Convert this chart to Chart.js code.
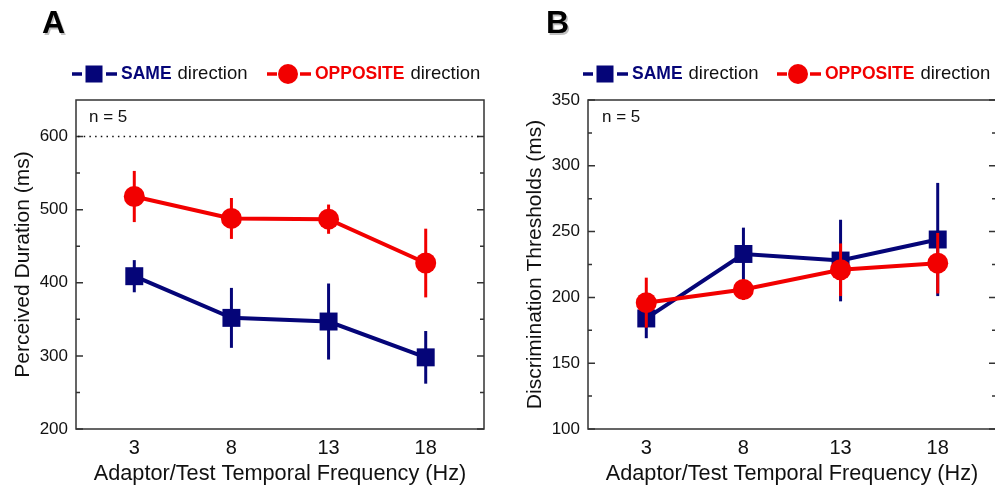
<!DOCTYPE html>
<html><head><meta charset="utf-8">
<script src="https://cdn.jsdelivr.net/npm/chart.js@4"></script>
<style>
html,body{margin:0;padding:0;overflow:hidden;background:#fff;width:995px;height:489px;}
#wa{position:absolute;left:0;top:0;width:500px;height:489px;}
#wb{position:absolute;left:500px;top:0;width:520px;height:489px;}
</style></head><body>
<div id="wa"><canvas id="ca" width="500" height="489"></canvas></div>
<div id="wb"><canvas id="cb" width="520" height="489"></canvas></div>
<script>
// ---- data ----
const frequencies = [3, 8, 13, 18];
const xTicks = [3, 8, 13, 18];
const durationSame = [409, 352, 347, 298];
const durationSameErr = [22, 41, 52, 36];
const durationOpposite = [518, 488, 487, 427];
const durationOppositeErr = [35, 28, 20, 47];
const thresholdSame = [184, 233, 228, 244];
const thresholdSameErr = [15, 20, 31, 43];
const thresholdOpposite = [196, 206, 221, 226];
const thresholdOppositeErr = [19, 8, 20, 23];
const durationTicks = [200, 300, 400, 500, 600];
const durationMinorTicks = [250, 350, 450, 550];
const thresholdTicks = [100, 150, 200, 250, 300, 350];
const thresholdMinorTicks = [125, 175, 225, 275, 325];
const referenceDuration = 600;
const sampleText = 'n = 5';

const NAVY = '#050578';
const RED = '#f20000';
const FONT = '"Liberation Sans", Arial, sans-serif';

function pts(arr) { return frequencies.map((f, i) => ({ x: f, y: arr[i] })); }

function drawSquare(ctx, cx, cy, s, c) { ctx.fillStyle = c; ctx.fillRect(cx - s / 2, cy - s / 2, s, s); }
function drawCircle(ctx, cx, cy, r, c) { ctx.fillStyle = c; ctx.beginPath(); ctx.arc(cx, cy, r, 0, Math.PI * 2); ctx.fill(); }
function dash(ctx, x1, x2, y, c) { ctx.strokeStyle = c; ctx.lineWidth = 3.5; ctx.beginPath(); ctx.moveTo(x1, y); ctx.lineTo(x2, y); ctx.stroke(); }

const panelPlugin = {
  id: 'panel',
  beforeDatasetsDraw(chart, args, o) {
    const { ctx, chartArea: a } = chart;
    const y = chart.scales.y;
    ctx.save();
    ctx.strokeStyle = '#333';
    ctx.lineWidth = 1.5;
    ctx.strokeRect(a.left, a.top, a.right - a.left, a.bottom - a.top);
    ctx.beginPath();
    o.major.forEach(v => {
      const p = y.getPixelForValue(v);
      ctx.moveTo(a.left, p); ctx.lineTo(a.left + 7, p);
      ctx.moveTo(a.right, p); ctx.lineTo(a.right - 7, p);
    });
    o.minor.forEach(v => {
      const p = y.getPixelForValue(v);
      ctx.moveTo(a.left, p); ctx.lineTo(a.left + 4, p);
      ctx.moveTo(a.right, p); ctx.lineTo(a.right - 4, p);
    });
    ctx.stroke();
    if (o.refLine != null) {
      const p = y.getPixelForValue(o.refLine);
      ctx.strokeStyle = '#111';
      ctx.lineWidth = 1.5;
      ctx.setLineDash([1.5, 4.2]);
      ctx.beginPath(); ctx.moveTo(a.left + 2, p); ctx.lineTo(a.right - 2, p); ctx.stroke();
      ctx.setLineDash([]);
    }
    ctx.fillStyle = '#111';
    ctx.font = '17px ' + FONT;
    ctx.textBaseline = 'middle';
    ctx.textAlign = 'left';
    ctx.fillText(sampleText, a.left + o.nOffset, 117);
    ctx.restore();
  },
  beforeDatasetDraw(chart, args) {
    const ds = chart.data.datasets[args.index];
    const ctx = chart.ctx, y = chart.scales.y;
    ctx.save();
    ctx.strokeStyle = ds.borderColor;
    ctx.lineWidth = 3;
    args.meta.data.forEach((el, i) => {
      const v = ds.data[i].y, e = ds.errors[i];
      ctx.beginPath();
      ctx.moveTo(el.x, y.getPixelForValue(v + e));
      ctx.lineTo(el.x, y.getPixelForValue(v - e));
      ctx.stroke();
    });
    ctx.restore();
  },
  afterDraw(chart, args, o) {
    const ctx = chart.ctx;
    ctx.save();
    ctx.font = 'bold 32px ' + FONT;
    ctx.textBaseline = 'alphabetic';
    ctx.textAlign = 'left';
    ctx.fillStyle = 'rgba(0,0,0,0.25)';
    ctx.fillText(o.letter, o.letterX + 1.5, 34.5);
    ctx.fillStyle = '#000';
    ctx.fillText(o.letter, o.letterX, 33);
    const L = o.legend, yc = 74;
    dash(ctx, L.x0, L.x0 + 10, yc, NAVY);
    drawSquare(ctx, L.x0 + 22, yc, 17, NAVY);
    dash(ctx, L.x0 + 34, L.x0 + 45, yc, NAVY);
    ctx.textBaseline = 'middle';
    ctx.font = 'bold 17.5px ' + FONT;
    ctx.fillStyle = NAVY;
    let x = L.x0 + 49;
    ctx.fillText('SAME', x, yc);
    x += ctx.measureText('SAME').width + 6;
    ctx.font = '18.5px ' + FONT;
    ctx.fillStyle = '#111';
    ctx.fillText('direction', x, yc);
    const x1 = L.x1;
    dash(ctx, x1, x1 + 10, yc, RED);
    drawCircle(ctx, x1 + 21, yc, 10, RED);
    dash(ctx, x1 + 33, x1 + 44, yc, RED);
    ctx.font = 'bold 17.5px ' + FONT;
    ctx.fillStyle = RED;
    x = x1 + 48;
    ctx.fillText('OPPOSITE', x, yc);
    x += ctx.measureText('OPPOSITE').width + 6;
    ctx.font = '18.5px ' + FONT;
    ctx.fillStyle = '#111';
    ctx.fillText('direction', x, yc);
    ctx.restore();
  }
};

function makeChart(id, p) {
  return new Chart(document.getElementById(id), {
    type: 'line',
    data: {
      datasets: [
        { label: 'SAME direction', data: pts(p.same), errors: p.sameErr, order: 2,
          borderColor: NAVY, backgroundColor: NAVY, borderWidth: 4,
          pointStyle: 'rect', pointRadius: 12.7, pointBorderWidth: 0, pointBackgroundColor: NAVY, tension: 0 },
        { label: 'OPPOSITE direction', data: pts(p.opp), errors: p.oppErr, order: 1,
          borderColor: RED, backgroundColor: RED, borderWidth: 4,
          pointStyle: 'circle', pointRadius: 10.5, pointBorderWidth: 0, pointBackgroundColor: RED, tension: 0 }
      ]
    },
    options: {
      responsive: false, animation: false, devicePixelRatio: 1,
      layout: { padding: { top: 100, right: p.padRight, left: 0, bottom: 0 } },
      plugins: {
        legend: { display: false }, tooltip: { enabled: false },
        panel: { major: p.major, minor: p.minor, refLine: p.refLine, nOffset: p.nOffset,
                 letter: p.letter, letterX: p.letterX, legend: p.legend }
      },
      scales: {
        x: {
          type: 'linear', min: 0, max: 21,
          afterBuildTicks: s => { s.ticks = xTicks.map(v => ({ value: v })); },
          afterFit: s => { s.height = 60; },
          grid: { display: false, drawTicks: false },
          border: { display: false },
          ticks: { padding: 7, color: '#111', font: { size: 20, family: FONT } },
          title: { display: true, text: 'Adaptor/Test Temporal Frequency (Hz)', color: '#111',
                   font: { size: 21.7, family: FONT }, padding: { top: 0, bottom: 2.4 } }
        },
        y: {
          min: p.ymin, max: p.ymax,
          afterBuildTicks: s => { s.ticks = p.major.map(v => ({ value: v })); },
          afterFit: s => { s.width = p.yWidth; },
          grid: { display: false, drawTicks: false },
          border: { display: false },
          ticks: { padding: 8, color: '#111', font: { size: 17, family: FONT } },
          title: { display: true, text: p.yTitle, color: '#111',
                   font: { size: 21, family: FONT }, padding: { top: p.yTitlePad, bottom: 0 } }
        }
      }
    },
    plugins: [panelPlugin]
  });
}

makeChart('ca', {
  same: durationSame, sameErr: durationSameErr, opp: durationOpposite, oppErr: durationOppositeErr,
  ymin: 200, ymax: 650, major: durationTicks, minor: durationMinorTicks, refLine: referenceDuration,
  yTitle: 'Perceived Duration (ms)', yWidth: 76, yTitlePad: 10.4, padRight: 16, nOffset: 13,
  letter: 'A', letterX: 42, legend: { x0: 72, x1: 267 }
});
makeChart('cb', {
  same: thresholdSame, sameErr: thresholdSameErr, opp: thresholdOpposite, oppErr: thresholdOppositeErr,
  ymin: 100, ymax: 350, major: thresholdTicks, minor: thresholdMinorTicks, refLine: null,
  yTitle: 'Discrimination Thresholds (ms)', yWidth: 88, yTitlePad: 22.4, padRight: 24, nOffset: 14,
  letter: 'B', letterX: 46, legend: { x0: 83, x1: 277 }
});
</script>
</body></html>
